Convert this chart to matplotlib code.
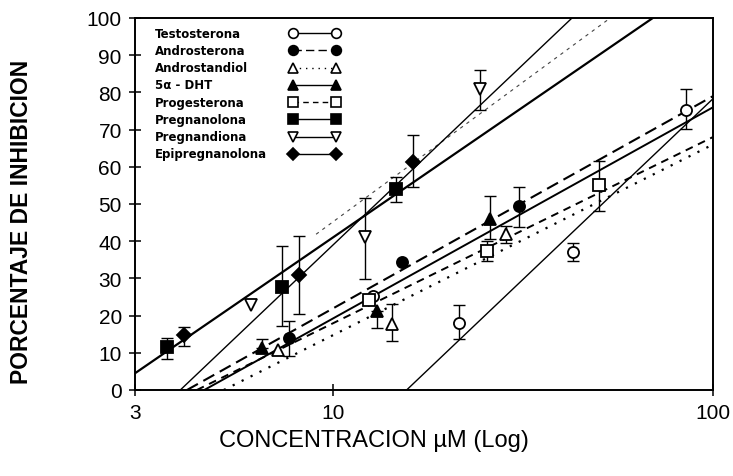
import numpy as np
import matplotlib
matplotlib.use("Agg")
import matplotlib.pyplot as plt
from matplotlib.ticker import FixedLocator, FixedFormatter, NullLocator

plt.rcParams['font.family'] = ['Liberation Sans', 'DejaVu Sans']

nombres = ["Testosterona", "Androsterona", "Androstandiol", "5α - DHT",
           "Progesterona", "Pregnanolona", "Pregnandiona", "Epipregnanolona"]

# concentracion (uM) de cada punto
conc = [
    [12.7, 21.4, 42.7, 84.7],
    [7.65, 15.2, 30.8],
    [7.15, 14.3, 28.4],
    [6.5, 13.0, 25.9],
    [12.4, 25.4, 50.2],
    [3.65, 7.3, 14.6],
    [6.05, 12.1, 24.3],
    [4.05, 8.1, 16.2],
]
# porcentaje de inhibicion
inhib = [
    [25.4, 17.9, 37.0, 75.2],
    [14.0, 34.4, 49.4],
    [10.8, 17.8, 42.0],
    [11.3, 21.2, 46.0],
    [24.3, 37.3, 55.0],
    [11.5, 27.8, 54.0],
    [22.8, 41.0, 80.8],
    [14.7, 30.9, 61.3],
]
# extremos de las barras de error (nan = sin barra)
barra_inf = [
    [np.nan, 13.8, 34.6, 70.1],
    [9.2, np.nan, 43.9],
    [np.nan, 13.1, 39.5],
    [11.3, 16.6, 40.6],
    [np.nan, 34.8, 48.2],
    [8.3, 17.3, 50.5],
    [np.nan, 29.8, 75.3],
    [11.9, 20.4, 54.5],
]
barra_sup = [
    [np.nan, 22.8, 39.6, 81.0],
    [18.6, np.nan, 54.5],
    [np.nan, 23.2, 44.0],
    [13.7, 21.2, 52.2],
    [np.nan, 40.0, 61.6],
    [13.9, 38.6, 57.3],
    [np.nan, 51.5, 86.0],
    [16.9, 41.3, 68.5],
]
# rectas: y = a + b*log10(x), desde x inicial
recta_a = [-115.7, -35.0, -36.4, -37.4, -32.0, -28.9, -29.7, -57.8]
recta_b = [97.0, 57.0, 51.2, 56.7, 50.0, 70.0, 75.0, 96.9]
recta_desde = [3, 3, 3, 3, 3, 3, 9.0, 3]

marcas = ['o', 'o', '^', '^', 's', 's', 'v', 'D']
relleno = ['white', 'black', 'white', 'black', 'white', 'black', 'white', 'black']
tamanos = [8, 8, 8, 8, 8, 8, 8, 7]
estilos = ['-', (0, (6, 3)), (0, (1, 3.5)), '-', (0, (4, 3)), '-', (0, (3, 4)), '-']
anchos = [1.0, 1.5, 1.6, 1.4, 1.4, 1.6, 0.8, 1.0]
colores_linea = ['black'] * 6 + ['#444444', 'black']

fig = plt.figure(figsize=(7.33, 4.77), dpi=100)
ax = fig.add_axes([135 / 733, 86 / 477, 578 / 733, 372 / 477])
ax.set_xscale('log')

for i in range(len(nombres)):
    a, b = recta_a[i], recta_b[i]
    lx0 = max(np.log10(recta_desde[i]), -a / b)
    lx1 = min(2.0, (100 - a) / b)
    lx = np.array([lx0, lx1])
    ax.plot(10 ** lx, a + b * lx, color=colores_linea[i], lw=anchos[i],
            linestyle=estilos[i], zorder=2)

    x = np.array(conc[i])
    y = np.array(inhib[i])
    lo = y - np.array(barra_inf[i])
    hi = np.array(barra_sup[i]) - y
    ax.errorbar(x, y, yerr=[lo, hi], fmt='none', ecolor='black',
                elinewidth=1.0, capsize=4, capthick=1.0, zorder=3)
    ax.plot(x, y, linestyle='none', marker=marcas[i], ms=tamanos[i],
            mfc=relleno[i], mec='black', mew=1.3, zorder=4)

# leyenda dibujada a mano: texto a la izquierda, muestra a la derecha
for i, nombre in enumerate(nombres):
    yy = 0.959 - i * 0.0463
    ax.text(0.034, yy, nombre, transform=ax.transAxes, fontsize=8.5,
            fontweight='bold', family=['DejaVu Sans'], va='center', ha='left')
    ax.plot([0.274, 0.348], [yy, yy], transform=ax.transAxes,
            color='black', lw=1.0, linestyle=estilos[i] if i != 6 else '-',
            marker=marcas[i], ms=tamanos[i] - 1, mfc=relleno[i], mec='black',
            mew=1.2, zorder=5)

ax.set_xlim(3, 100)
ax.set_ylim(0, 100)
ax.xaxis.set_major_locator(FixedLocator([3, 10, 100]))
ax.xaxis.set_major_formatter(FixedFormatter(['3', '10', '100']))
ax.xaxis.set_minor_locator(NullLocator())
ax.set_yticks(range(0, 101, 10))
ax.tick_params(direction='inout', length=9, width=1.1, labelsize=15, pad=5)
for s in ax.spines.values():
    s.set_linewidth(1.4)

fig.text(374 / 733, 1 - 441 / 477, 'CONCENTRACION µM (Log)', fontsize=17,
         ha='center', va='center')
fig.text(22 / 733, 1 - 222 / 477, 'PORCENTAJE DE INHIBICION', fontsize=16.5,
         fontweight='bold', rotation=90, ha='center', va='center')

fig.savefig('out.png', dpi=100)
